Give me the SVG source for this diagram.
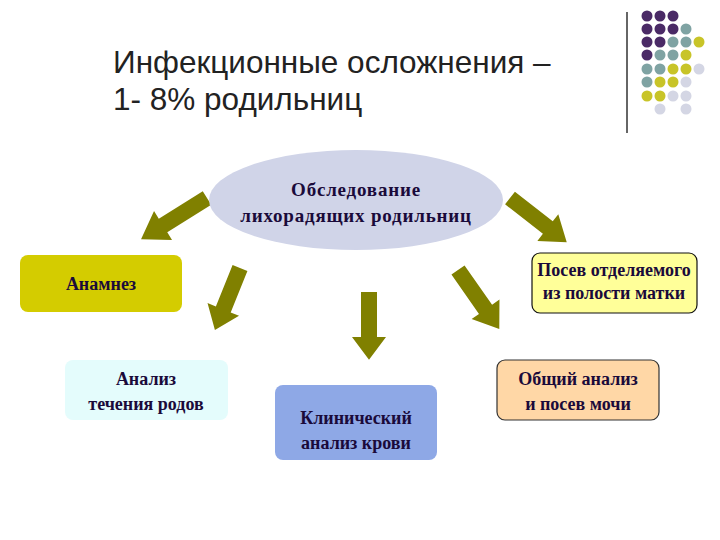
<svg xmlns="http://www.w3.org/2000/svg" width="720" height="540" viewBox="0 0 720 540">
<style>
.t{font-family:"Liberation Sans",Arial,sans-serif;font-size:31.5px;fill:#222}
.b{font-family:"Liberation Serif","Times New Roman",serif;font-weight:bold;font-size:18px;fill:#1a0a3a;text-anchor:middle}
.e{font-size:19px;letter-spacing:0.8px}
.P{fill:#4a2a66}.T{fill:#7fa3a3}.Y{fill:#c8c428}.L{fill:#d4d6e4}
</style>
<defs><polygon id="ar" points="-8,0 8,0 8,48 17,48 0,72 -17,48 -8,48" fill="#808000"/></defs>
<rect width="720" height="540" fill="#fff"/>
<text class="t" x="113" y="73">Инфекционные осложнения –</text>
<text class="t" x="113" y="110">1- 8% родильниц</text>
<line x1="627" y1="12" x2="627" y2="133" stroke="#333" stroke-width="1.5"/>
<g id="dots">
<circle class="P" cx="647" cy="16" r="5.5"/><circle class="P" cx="660" cy="16" r="5.5"/><circle class="P" cx="673" cy="16" r="5.5"/>
<circle class="P" cx="647" cy="29" r="5.5"/><circle class="P" cx="660" cy="29" r="5.5"/><circle class="P" cx="673" cy="29" r="5.5"/><circle class="T" cx="686" cy="29" r="5.5"/>
<circle class="P" cx="647" cy="42" r="5.5"/><circle class="P" cx="660" cy="42" r="5.5"/><circle class="T" cx="673" cy="42" r="5.5"/><circle class="T" cx="686" cy="42" r="5.5"/><circle class="Y" cx="699" cy="42" r="5.5"/>
<circle class="P" cx="647" cy="55" r="5.5"/><circle class="T" cx="660" cy="55" r="5.5"/><circle class="T" cx="673" cy="55" r="5.5"/><circle class="Y" cx="686" cy="55" r="5.5"/>
<circle class="T" cx="647" cy="69" r="5.5"/><circle class="T" cx="660" cy="69" r="5.5"/><circle class="Y" cx="673" cy="69" r="5.5"/><circle class="Y" cx="686" cy="69" r="5.5"/><circle class="L" cx="699" cy="69" r="5.5"/>
<circle class="T" cx="647" cy="82" r="5.5"/><circle class="Y" cx="660" cy="82" r="5.5"/><circle class="Y" cx="673" cy="82" r="5.5"/><circle class="L" cx="686" cy="82" r="5.5"/>
<circle class="Y" cx="647" cy="96" r="5.5"/><circle class="Y" cx="660" cy="96" r="5.5"/><circle class="L" cx="673" cy="96" r="5.5"/><circle class="L" cx="686" cy="96" r="5.5"/>
<circle class="L" cx="660" cy="109" r="5.5"/><circle class="L" cx="686" cy="109" r="5.5"/>
</g>
<g id="connectors">
<use href="#ar" transform="translate(207,198) rotate(58) scale(1,1.08)"/>
<use href="#ar" transform="translate(240,268) rotate(22) scale(1,0.93)"/>
<use href="#ar" transform="translate(369,292) scale(1,0.94)"/>
<use href="#ar" transform="translate(458,270) rotate(-35)"/>
<use href="#ar" transform="translate(510,198) rotate(-52)"/>
</g>
<g id="n0"><ellipse cx="356" cy="200" rx="147" ry="50" fill="#d0d4e8"/>
<text class="b e" x="356" y="196">Обследование</text><text class="b e" x="356" y="222">лихорадящих родильниц</text></g>
<g id="n1"><rect x="20" y="255" width="162" height="57" rx="8" fill="#d4cc00"/><text class="b" x="101" y="290">Анамнез</text></g>
<g id="n2"><rect x="65" y="360" width="163" height="60" rx="8" fill="#e4fcfc"/><text class="b" x="146" y="385">Анализ</text><text class="b" x="146" y="410">течения родов</text></g>
<g id="n3"><rect x="275" y="385" width="162" height="75" rx="8" fill="#8ea8e6"/><text class="b" x="356" y="424">Клинический</text><text class="b" x="356" y="449">анализ крови</text></g>
<g id="n4"><rect x="532" y="253" width="165" height="60" rx="8" fill="#ffff99" stroke="#111" stroke-width="1.2"/><text class="b" x="614" y="276">Посев отделяемого</text><text class="b" x="614" y="299">из полости матки</text></g>
<g id="n5"><rect x="497" y="360" width="162" height="60" rx="8" fill="#ffd7a6" stroke="#333" stroke-width="1.2"/><text class="b" x="578" y="385">Общий анализ</text><text class="b" x="578" y="410">и посев мочи</text></g>
</svg>
